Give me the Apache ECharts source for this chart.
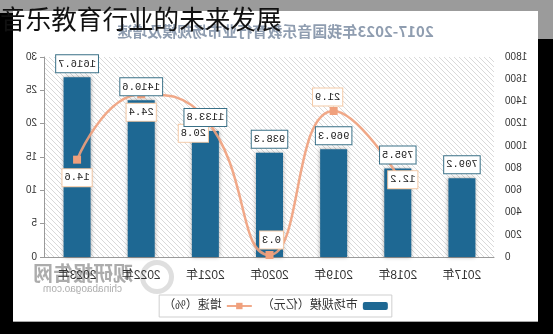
<!DOCTYPE html>
<html>
<head>
<meta charset="utf-8">
<script src="https://cdn.jsdelivr.net/npm/echarts@6/dist/echarts.min.js"></script>
<style>
  html, body { margin: 0; padding: 0; }
  body { width: 553px; height: 334px; background: #000; position: relative; overflow: hidden; }
  .band { position: absolute; background: #9b9b9b; }
  #panel { position: absolute; left: 13px; top: 11px; width: 525px; height: 311px; background: #fff;
           box-sizing: border-box; border-bottom: 1px solid #a8a8a8; transform: scaleX(-1); }
  #chart { width: 525px; height: 310px; }
  #headline { position: absolute; left: 0; top: 5px; font-family: "Noto Sans CJK SC", sans-serif;
              font-size: 25.6px; line-height: 1; color: #111; white-space: nowrap; }
</style>
</head>
<body>
<div class="band" style="left:0;top:0;width:553px;height:11px"></div>
<div class="band" style="left:0;top:0;width:13px;height:13px"></div>
<div class="band" style="left:538px;top:0;width:15px;height:39px"></div>
<div id="panel"><div id="chart"></div></div>
<div id="headline">音乐教育行业的未来发展</div>
<script>
// 2017-2023 music education market: size (100M CNY) and year-on-year growth (%)
const years = ['2017年', '2018年', '2019年', '2020年', '2021年', '2022年', '2023年'];
const marketSize = [709.2, 795.5, 969.3, 938.3, 1133.8, 1410.6, 1616.7];
const growthRate = [null, 12.2, 21.9, 0.3, 20.8, 24.4, 14.6];
const sizeAxis = { min: 0, max: 1800, interval: 200 };
const rateAxis = { min: 0, max: 30, interval: 5 };

// where each growth label sits relative to its point
const growthLabelOffset = [null, [-5, 4], [6, -14], [-2, -15], [12, 15], [0, 18], [0, 18]];

// diagonal hatch used behind the plot area
function hatch() {
  const s = 5, c = document.createElement('canvas');
  c.width = s; c.height = s;
  const g = c.getContext('2d');
  g.strokeStyle = '#d9d9d9';
  g.lineWidth = 1;
  g.beginPath();
  g.moveTo(0, s); g.lineTo(s, 0);
  g.moveTo(-1, 1); g.lineTo(1, -1);
  g.moveTo(s - 1, s + 1); g.lineTo(s + 1, s - 1);
  g.stroke();
  return { image: c, repeat: 'repeat' };
}

const labelFont = '"Liberation Mono", monospace';
const textFont = '"Liberation Sans", "Noto Sans CJK SC", sans-serif';

const sizeLabel = {
  show: true, position: 'top', distance: 5,
  backgroundColor: '#fff', borderColor: '#3a7087', borderWidth: 1,
  padding: [2, 2], lineHeight: 13,
  fontFamily: labelFont, fontSize: 10.5, color: '#222'
};

const chart = echarts.init(document.getElementById('chart'), null, { renderer: 'canvas' });
chart.setOption({
  animation: false,
  title: {
    text: '2017-2023年我国音乐教育行业市场规模及增速',
    left: 'center', top: 8,
    textStyle: { fontFamily: '"Noto Sans CJK SC", sans-serif', fontSize: 15, fontWeight: 'bold', color: '#8f9db0' }
  },
  legend: {
    left: 'center', top: 284,
    padding: [5, 4], itemGap: 9, itemWidth: 25, itemHeight: 8,
    borderColor: '#cfcfcf', borderWidth: 1, backgroundColor: '#fff',
    textStyle: { fontFamily: textFont, fontSize: 12, color: '#333' },
    data: ['市场规模（亿元）', '增速（%）']
  },
  grid: {
    left: 44, right: 32, top: 46, bottom: 64,
    show: true, borderWidth: 0, backgroundColor: hatch()
  },
  xAxis: {
    type: 'category', data: years,
    axisLine: { lineStyle: { color: '#9a9a9a' } },
    axisTick: { show: false },
    axisLabel: { margin: 13, fontFamily: textFont, fontSize: 12, color: '#333' }
  },
  yAxis: [
    {
      type: 'value', ...sizeAxis,
      axisLine: { show: false }, axisTick: { show: false }, splitLine: { show: false },
      axisLabel: { margin: 11, fontFamily: textFont, fontSize: 10, color: '#333', formatter: v => String(v) }
    },
    {
      type: 'value', ...rateAxis, position: 'right',
      axisLine: { show: true, lineStyle: { color: '#9a9a9a' } },
      axisTick: { show: true, length: 5, lineStyle: { color: '#9a9a9a' } },
      splitLine: { show: false },
      axisLabel: { margin: 8, fontFamily: textFont, fontSize: 10, color: '#333', formatter: v => String(v) }
    }
  ],
  series: [
    {
      name: '市场规模（亿元）', type: 'bar', yAxisIndex: 0,
      data: marketSize, barWidth: 27,
      itemStyle: { color: '#1e6893', shadowBlur: 4, shadowColor: 'rgba(0,0,0,0.35)' }
    },
    {
      name: '增速（%）', type: 'line', yAxisIndex: 1,
      smooth: true, symbol: 'rect', symbolSize: 8,
      data: growthRate.map((v, i) => v === null ? '-' : { value: v, label: { offset: growthLabelOffset[i] } }),
      lineStyle: { color: '#f0a07c', width: 2.5, opacity: 0.9 },
      itemStyle: { color: '#f0a07c' },
      label: {
        show: true, position: 'inside',
        backgroundColor: '#fff', borderColor: '#f4c9a6', borderWidth: 1,
        padding: [2, 2], lineHeight: 13,
        fontFamily: labelFont, fontSize: 10.5, color: '#222'
      }
    },
    {
      // value tags for the market-size bars, kept above the growth line
      name: 'sizeTags', type: 'bar', yAxisIndex: 0, z: 4, silent: true,
      data: marketSize, barWidth: 27, barGap: '-100%',
      itemStyle: { color: 'rgba(0,0,0,0)' },
      label: sizeLabel
    }
  ],
  graphic: [
    { type: 'ring', shape: { cx: 381, cy: 266, r: 17, r0: 12 }, style: { fill: 'rgba(150,150,150,0.3)' } },
    { type: 'text', right: 20, top: 252,
      style: { text: '观研报告网', font: 'bold 20px "Noto Sans CJK SC"', fill: 'rgba(90,90,90,0.5)' } },
    { type: 'text', right: 30, top: 273,
      style: { text: 'chinabaogao.com', font: '10px "Liberation Sans"', fill: 'rgba(90,90,90,0.5)' } }
  ]
});
</script>
</body>
</html>
